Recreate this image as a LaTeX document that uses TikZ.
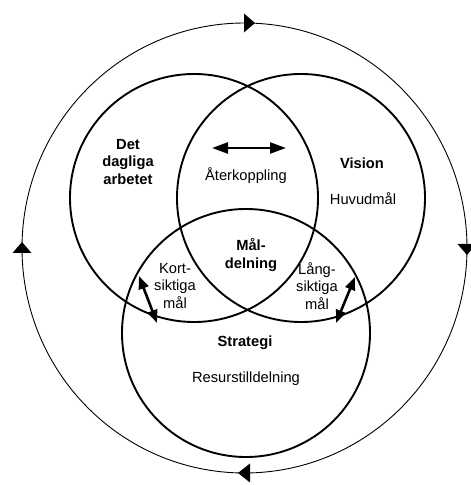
\documentclass[tikz,border=0pt]{standalone}
\usepackage{fontspec}
\setmainfont{Liberation Sans}
\usetikzlibrary{arrows.meta,calc}
\begin{document}
\begin{tikzpicture}[x=1pt,y=1pt,
  every node/.style={font=\fontsize{14.7}{17.5}\selectfont, align=center, inner sep=0pt},
  title/.style={font=\fontsize{14.7}{17.5}\selectfont\bfseries},
  ring/.style={line width=1.9pt},
  outer/.style={line width=0.9pt},
  head/.style={fill=black},
  dbl/.style={line width=2.4pt, {Triangle[length=16pt,width=11pt]}-{Triangle[length=16pt,width=11pt]}},
  dbls/.style={line width=2.6pt, {Triangle[length=13pt,width=10pt]}-{Triangle[length=13pt,width=10pt]}}
]
\useasboundingbox (0,0) rectangle (471,485);
\coordinate (oc) at (244.5,237);
\draw[outer] (oc) ellipse[x radius=222.5, y radius=225];
% clockwise arrowheads on the outer ring
\fill[head] (255,462) -- (244,471.5) -- (244,452.5) -- cycle;
\fill[head] (467,230) -- (457.5,241) -- (476.5,241) -- cycle;
\fill[head] (238,12) -- (250,21.5) -- (250,2.5) -- cycle;
\fill[head] (22,243) -- (12.5,232) -- (31.5,232) -- cycle;

\draw[ring] (194,287) circle[radius=124];
\draw[ring] (301,287) circle[radius=124];
\draw[ring] (246,152) circle[radius=124];

\node[title] (daily) at (128,323) {Det\\dagliga\\arbetet};
\node[title] (vision) at (362,322) {Vision};
\node (huvud) at (363,286) {Huvudmål};
\node (ater) at (246,309) {Återkoppling};
\coordinate (ha) at (212,337);
\coordinate (hb) at (286,337);
\draw[dbl] (ha) -- (hb);
\node[title] (mal) at (251,230) {Mål-\\delning};
\node (kort) at (175,199) {Kort-\\siktiga\\mål};
\node (lang) at (317,199) {Lång-\\siktiga\\mål};
\node[title] (strat) at (245,142) {Strategi};
\node (resurs) at (246,106) {Resurstilldelning};
\coordinate (la) at (139,209);
\coordinate (lb) at (157,162);
\coordinate (ra) at (355,208);
\coordinate (rb) at (336,162);
\draw[dbls] (la) -- (lb);
\draw[dbls] (ra) -- (rb);
\end{tikzpicture}
\end{document}
